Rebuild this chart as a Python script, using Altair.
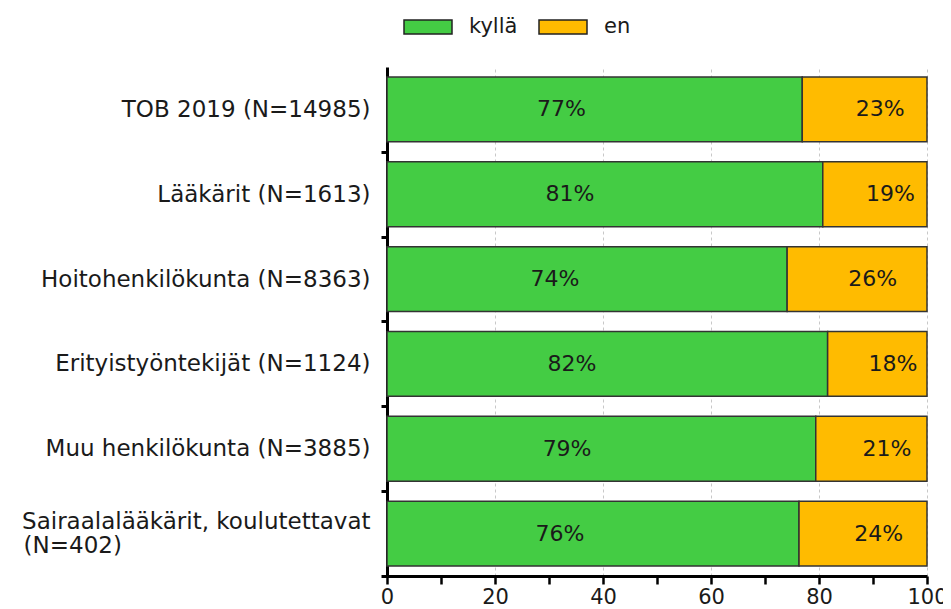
import altair as alt
import pandas as pd

categories = [
    "TOB 2019 (N=14985)",
    "Lääkärit (N=1613)",
    "Hoitohenkilökunta (N=8363)",
    "Erityistyöntekijät (N=1124)",
    "Muu henkilökunta (N=3885)",
    "Sairaalalääkärit, koulutettavat (N=402)",
]
kylla = [76.9, 80.7, 74.1, 81.6, 79.4, 76.3]
en = [23.1, 19.3, 25.9, 18.4, 20.6, 23.7]
series = ["kyllä", "en"]
colors = ["#44CC44", "#FFBB00"]
x_ticks = list(range(0, 101, 10))

rows = []
for i, c in enumerate(categories):
    rows.append({"category": c, "series": series[0], "rank": 0, "value": kylla[i]})
    rows.append({"category": c, "series": series[1], "rank": 1, "value": en[i]})
df = pd.DataFrame(rows)

FONT = "DejaVu Sans"
TXT = "#1a1a1a"
# non-breaking spaces keep the second line of the long label left-aligned;
# a zero-width space at the end stops them from being trimmed
pad = "\u00a0" * 34 + "\u200b"
long_test = "isString(datum.value) && length(datum.value) > 30"

x_axis = alt.Axis(
    title=None, orient="bottom", values=x_ticks,
    labelExpr="datum.value % 20 == 0 ? datum.label : ''",
    grid=True, gridColor="#c8c8c8", gridDash=[3, 3], gridWidth=1,
    gridOpacity={"condition": {"test": "datum.value % 20 == 0", "value": 1}, "value": 0},
    domainColor="#000", domainWidth=3,
    tickColor="#000", tickWidth=2.5, tickSize=8,
    labelFont=FONT, labelFontSize=21, labelColor=TXT, labelPadding=2,
    labelFlush=False,
)
x_scale = alt.Scale(domain=[0, 100], nice=False, zero=True)

y_enc = alt.Y(
    "category:N", sort=categories, title=None,
    scale=alt.Scale(paddingInner=0.236, paddingOuter=0.118),
    axis=alt.Axis(
        orient="left",
        domainColor="#000", domainWidth=3, tickColor="#000", tickWidth=3,
        tickSize=6, bandPosition=1, tickOffset=10, labelOffset=-10,
        labelPadding=11, labelLimit=500,
        labelFont=FONT, labelFontSize=23, labelColor=TXT, labelLineHeight=24,
        labelBaseline={"condition": {"test": long_test, "value": "bottom"}, "value": "middle"},
        labelExpr=(
            long_test + " ? "
            "[slice(datum.value, 0, indexof(datum.value, ' (')), "
            "slice(datum.value, indexof(datum.value, ' (') + 1) + '" + pad + "'] "
            ": datum.label"
        ),
    ),
)

bars = alt.Chart(df).mark_bar(stroke="#333333", strokeWidth=1.5).encode(
    x=alt.X("value:Q", stack="zero", scale=x_scale, axis=x_axis),
    y=y_enc,
    color=alt.Color(
        "series:N",
        scale=alt.Scale(domain=series, range=colors),
        legend=alt.Legend(
            title=None, orient="none", legendX=16, legendY=-65,
            direction="horizontal",
            symbolType="M-1,-0.29L1,-0.29L1,0.29L-1,0.29Z", symbolSize=2304,
            symbolStrokeColor="#222222", symbolStrokeWidth=1.5,
            labelFont=FONT, labelFontSize=21, padding=0,
            labelColor=TXT, labelOffset=16, columnPadding=18,
        ),
    ),
    order=alt.Order("rank:Q"),
)

labels = alt.Chart(df).transform_stack(
    stack="value", as_=["x0", "x1"], groupby=["category"],
    sort=[alt.SortField("rank")],
).transform_calculate(
    pos="datum.rank == 0 ? 0.42 * datum.x1 : (datum.x0 + datum.x1) / 2 + 2.9",
    label="format(datum.value, '.0f') + '%'",
).mark_text(font=FONT, fontSize=22, color=TXT).encode(
    x=alt.X("pos:Q", scale=x_scale, axis=x_axis),
    y=y_enc,
    text="label:N",
)

chart = alt.layer(bars, labels).properties(
    width=540, height=509,
    autosize=alt.AutoSizeParams(type="none"),
    padding={"left": 379, "top": 59, "right": 16, "bottom": 40},
    background="white",
).configure_view(stroke=None)

chart.save("out.html", embed_options={"renderer": "svg", "actions": False})
